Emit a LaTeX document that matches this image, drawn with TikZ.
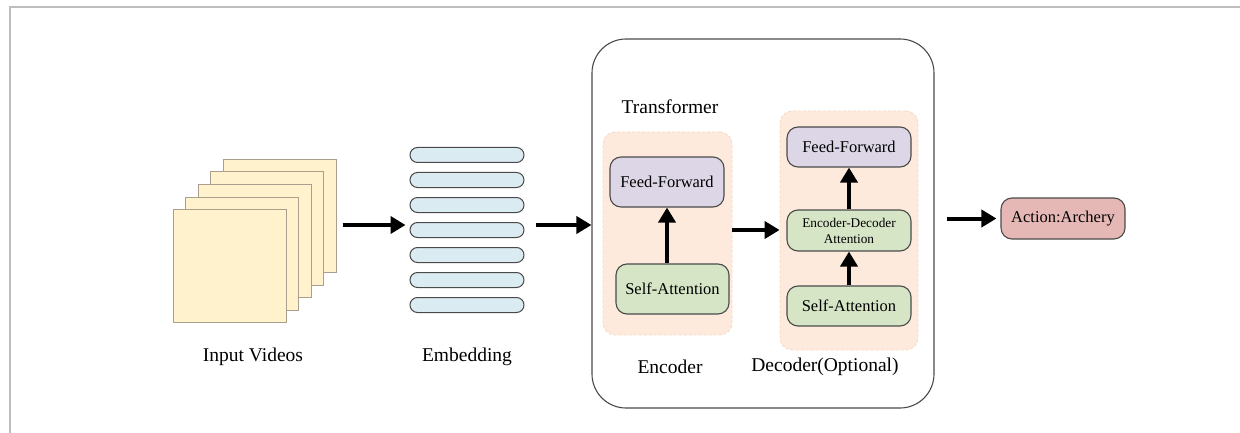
\documentclass[tikz,border=0pt]{standalone}
\usepackage{fontspec}
\setmainfont{Liberation Serif}
\usetikzlibrary{arrows.meta,calc}

\definecolor{framegrey}{HTML}{BDBDBD}
\definecolor{clipfill}{HTML}{FFF2CC}
\definecolor{clipline}{HTML}{A8A08C}
\definecolor{tokfill}{HTML}{DAEBF2}
\definecolor{panelfill}{HTML}{FDEADC}
\definecolor{panelline}{HTML}{F6D9C4}
\definecolor{fffill}{HTML}{DDD6E7}
\definecolor{attfill}{HTML}{D6E5C6}
\definecolor{outfill}{HTML}{E6B8B5}
\definecolor{boxline}{HTML}{4A4A4A}

\tikzset{
  clip frame/.style={draw=clipline, fill=clipfill, line width=1pt,
    minimum width=113pt, minimum height=113pt, inner sep=0pt},
  token/.style={draw=boxline, fill=tokfill, line width=1pt,
    minimum width=114pt, minimum height=15pt, inner sep=0pt, rounded corners=7.5pt},
  panel/.style={fill=panelfill, draw=panelline, densely dashed, line width=0.8pt,
    rounded corners=12pt, inner sep=0pt},
  layer/.style={draw=boxline, line width=1.1pt, rounded corners=11pt,
    inner sep=0pt, font=\fontsize{16.5}{18}\selectfont},
  label/.style={font=\fontsize{19.5}{22}\selectfont, inner sep=0pt},
  flow/.style={line width=4pt, -{Triangle[length=15pt,width=17pt]}},
}

\begin{document}
\begin{tikzpicture}[x=1pt, y=-1pt]
\useasboundingbox (0,0) rectangle (1240,433);

% page frame lines
\draw[framegrey, line width=1.3pt] (10,433) -- (10,7) -- (1240,7);

% stack of video frames, back to front
\node[clip frame] (f5) at (279.5,216) {};
\node[clip frame] (f4) at (267,228.5) {};
\node[clip frame] (f3) at (254.5,241) {};
\node[clip frame] (f2) at (242,253.5) {};
\node[clip frame] (f1) at (229.5,266) {};
\node[label] (lvid) at (253,357) {Input Videos};

% embedding tokens
\foreach \i/\y in {1/155,2/180,3/205,4/230,5/255,6/280,7/305}
  \node[token] (e\i) at (467,\y) {};
\node[label] (lemb) at (467,357) {Embedding};

% transformer container
\node[draw=boxline, line width=1.1pt, rounded corners=34pt,
      minimum width=342pt, minimum height=369pt, inner sep=0pt] (tr) at (763,223.5) {};
\node[label] (ltr) at (670,107) {Transformer};

% encoder
\node[panel, minimum width=129pt, minimum height=203pt] (enc) at (667.5,233.5) {};
\node[layer, fill=fffill, minimum width=114pt, minimum height=50pt] (eff) at (667,182) {Feed-Forward};
\node[layer, fill=attfill, minimum width=113pt, minimum height=50pt] (esa) at (672.5,289) {Self-Attention};
\node[label] (lenc) at (670,367) {Encoder};

% decoder
\node[panel, minimum width=138pt, minimum height=239pt] (dec) at (849,230.5) {};
\node[layer, fill=fffill, minimum width=124pt, minimum height=40pt] (dff) at (849,147) {Feed-Forward};
\node[layer, fill=attfill, minimum width=124pt, minimum height=41pt, align=center,
      font=\fontsize{13.3}{16}\selectfont] (dca) at (849,230.5) {Encoder-Decoder\\Attention};
\node[layer, fill=attfill, minimum width=124pt, minimum height=40pt] (dsa) at (849,306) {Self-Attention};
\node[label] (ldec) at (825,367) {Decoder(Optional)};

% prediction
\node[layer, fill=outfill, minimum width=124pt, minimum height=41pt] (act) at (1063,218.5) {Action:Archery};

% data flow
\coordinate (a1s) at ($(f5.east |- 0,225)+(6,0)$);
\coordinate (a1e) at ($(e4.west |- 0,225)+(-4,0)$);
\draw[flow] (a1s) -- (a1e);
\coordinate (a2s) at ($(e4.east |- 0,225)+(11,0)$);
\draw[flow] (a2s) -- (tr.west |- a2s);
\draw[flow] (esa.north -| eff.south) -- (eff.south);
\draw[flow] (enc.east |- 0,230) -- (dec.west |- 0,230);
\draw[flow] (dsa.north) -- (dca.south);
\draw[flow] (dca.north) -- (dff.south);
\draw[flow] ($(tr.east |- act)+(12,0)$) -- ($(act.west)+(-4,0)$);
\end{tikzpicture}
\end{document}
